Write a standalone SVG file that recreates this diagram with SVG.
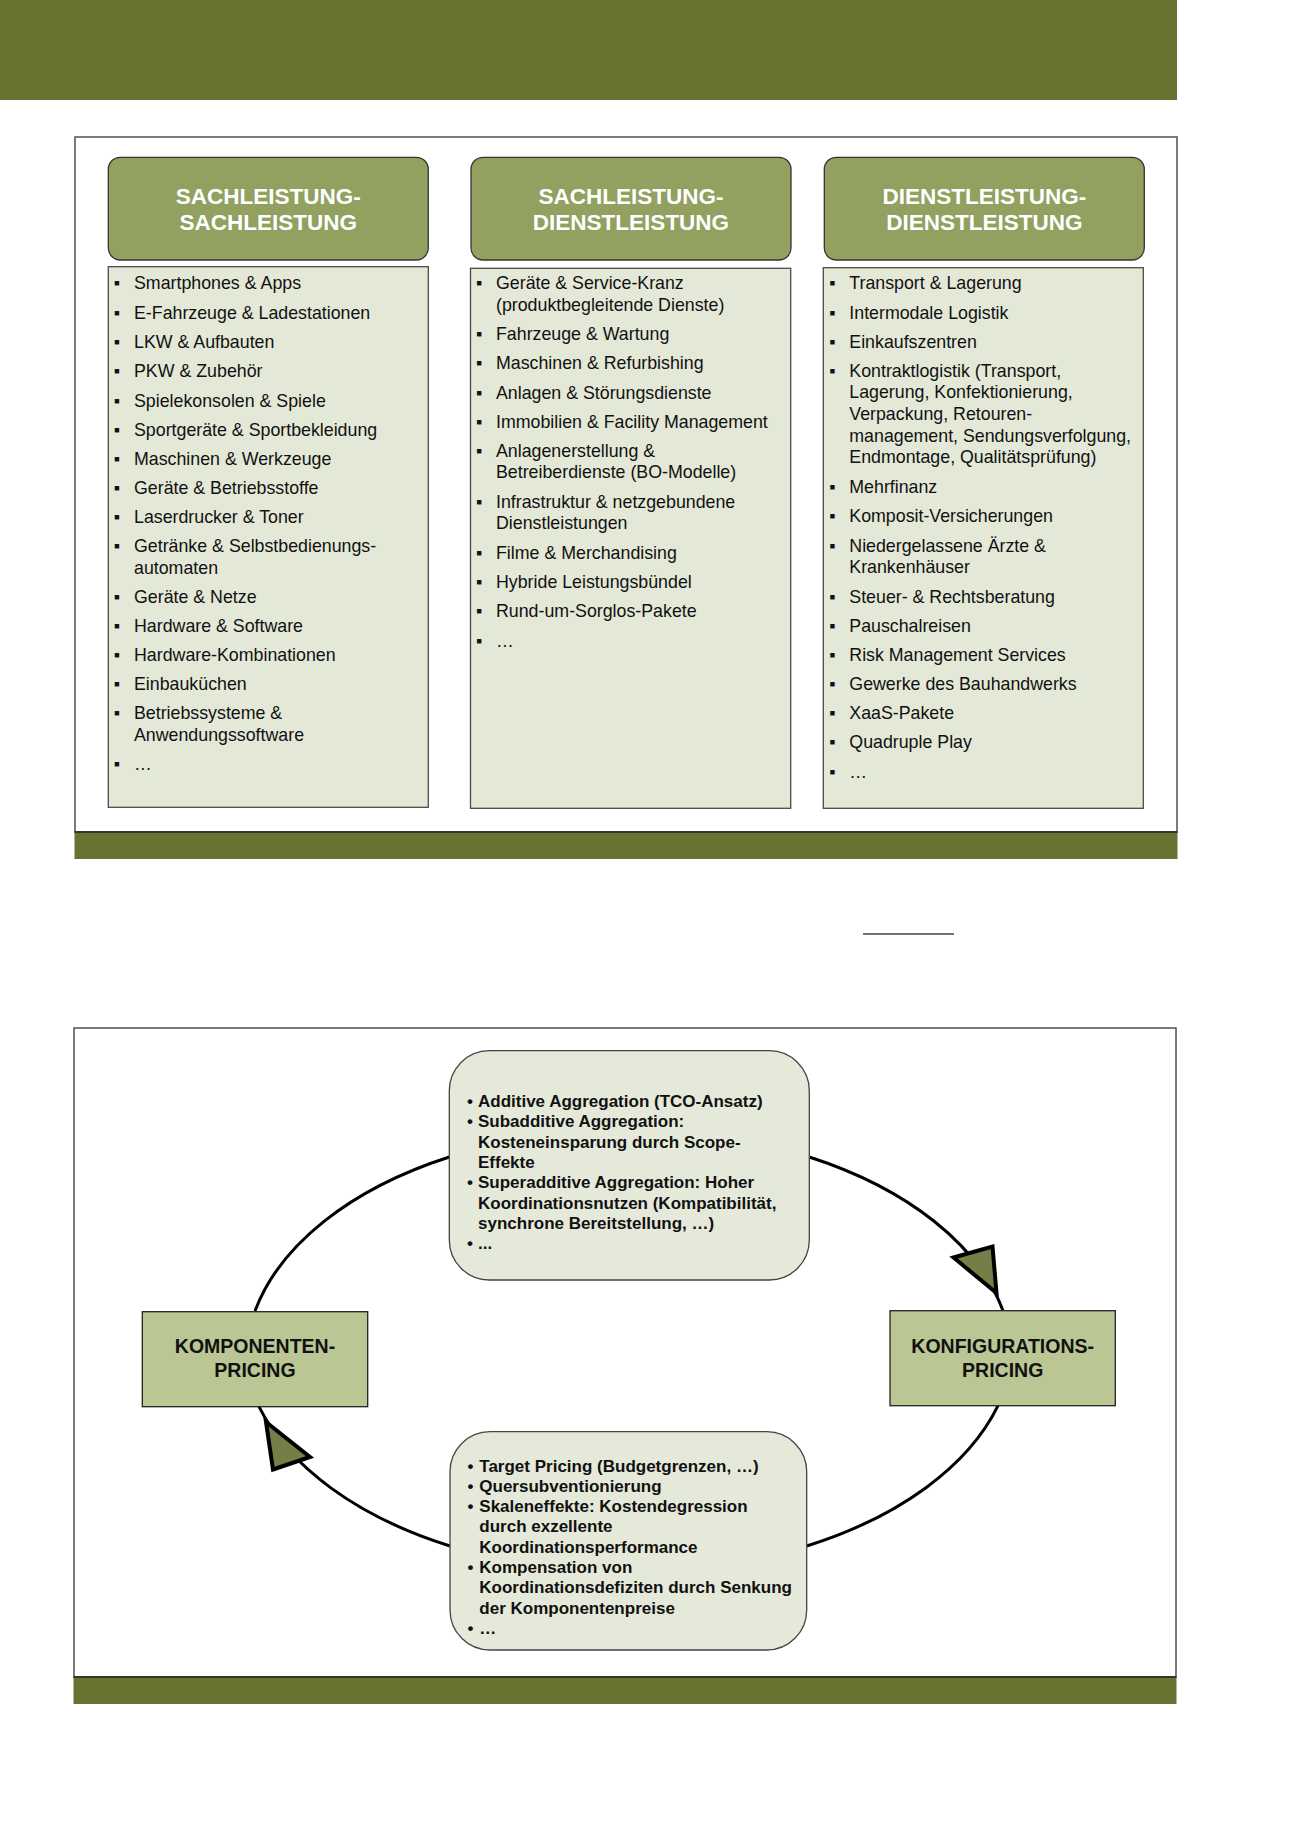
<svg xmlns="http://www.w3.org/2000/svg" width="1300" height="1839" viewBox="0 0 1300 1839">
<style>
.bar{fill:#687331}
.frame{fill:#fff;stroke:#505050;stroke-width:1.5}
.hdr{fill:#92a060;stroke:#333;stroke-width:1.3}
.hdrt{font-family:"Liberation Sans",Arial,sans-serif;font-weight:bold;font-size:22.5px;fill:#fff;text-anchor:middle}
.lst{fill:#e4e8d7;stroke:#4a4a4a;stroke-width:1.3}
.li{font-family:"Liberation Sans",Arial,sans-serif;font-size:17.8px;fill:#111}
.bul{font-family:"Liberation Sans",Arial,sans-serif;font-size:17.8px;fill:#111;text-anchor:middle}
.node{fill:#bac794;stroke:#222;stroke-width:1.3}
.nodet{font-family:"Liberation Sans",Arial,sans-serif;font-weight:bold;font-size:19.5px;fill:#111;text-anchor:middle}
.rbox{fill:#e5e9d9;stroke:#444;stroke-width:1.3}
.bt{font-family:"Liberation Sans",Arial,sans-serif;font-weight:bold;font-size:17px;fill:#111}
.conn{fill:none;stroke:#000;stroke-width:3}
.arrow{fill:#737f46;stroke:#000;stroke-width:4;stroke-linejoin:miter}
</style>

<rect class="bar" x="0" y="0" width="1177" height="100"/>

<!-- Upper panel -->
<g id="panel1">
<rect class="frame" x="75" y="137" width="1102" height="695"/>
<rect class="bar" x="74.5" y="832" width="1103" height="27"/>
<line x1="74.5" y1="832" x2="1177.5" y2="832" stroke="#222" stroke-width="1.3"/>
</g>

<g id="col1">
<rect class="hdr" x="108.3" y="157.3" width="320" height="102.7" rx="12"/>
<text class="hdrt" x="268.3" y="204">SACHLEISTUNG-</text>
<text class="hdrt" x="268.3" y="230">SACHLEISTUNG</text>
<rect class="lst" x="108.3" y="266.7" width="320" height="540.6"/>
<g class="bul">
<text x="116.8" y="289.3">▪</text><text x="116.8" y="318.6">▪</text><text x="116.8" y="347.9">▪</text><text x="116.8" y="377.2">▪</text><text x="116.8" y="406.5">▪</text><text x="116.8" y="435.8">▪</text><text x="116.8" y="465">▪</text><text x="116.8" y="494">▪</text><text x="116.8" y="523">▪</text><text x="116.8" y="552">▪</text><text x="116.8" y="602.7">▪</text><text x="116.8" y="631.8">▪</text><text x="116.8" y="661">▪</text><text x="116.8" y="690">▪</text><text x="116.8" y="719.3">▪</text><text x="116.8" y="770">▪</text>
</g>
<g class="li">
<text x="134" y="289.3">Smartphones &amp; Apps</text>
<text x="134" y="318.6">E-Fahrzeuge &amp; Ladestationen</text>
<text x="134" y="347.9">LKW &amp; Aufbauten</text>
<text x="134" y="377.2">PKW &amp; Zubehör</text>
<text x="134" y="406.5">Spielekonsolen &amp; Spiele</text>
<text x="134" y="435.8">Sportgeräte &amp; Sportbekleidung</text>
<text x="134" y="465">Maschinen &amp; Werkzeuge</text>
<text x="134" y="494">Geräte &amp; Betriebsstoffe</text>
<text x="134" y="523">Laserdrucker &amp; Toner</text>
<text x="134" y="552">Getränke &amp; Selbstbedienungs-</text>
<text x="134" y="573.5">automaten</text>
<text x="134" y="602.7">Geräte &amp; Netze</text>
<text x="134" y="631.8">Hardware &amp; Software</text>
<text x="134" y="661">Hardware-Kombinationen</text>
<text x="134" y="690">Einbauküchen</text>
<text x="134" y="719.3">Betriebssysteme &amp;</text>
<text x="134" y="741">Anwendungssoftware</text>
<text x="134" y="770">…</text>
</g>
</g>

<g id="col2">
<rect class="hdr" x="471" y="157.3" width="320" height="102.7" rx="12"/>
<text class="hdrt" x="631" y="204">SACHLEISTUNG-</text>
<text class="hdrt" x="631" y="230">DIENSTLEISTUNG</text>
<rect class="lst" x="470.5" y="268.3" width="320.2" height="540"/>
<g class="bul">
<text x="479.2" y="289.3">▪</text><text x="479.2" y="340">▪</text><text x="479.2" y="369.3">▪</text><text x="479.2" y="398.5">▪</text><text x="479.2" y="427.7">▪</text><text x="479.2" y="456.8">▪</text><text x="479.2" y="507.6">▪</text><text x="479.2" y="558.8">▪</text><text x="479.2" y="588.2">▪</text><text x="479.2" y="617.4">▪</text><text x="479.2" y="646.7">▪</text>
</g>
<g class="li">
<text x="496" y="289.3">Geräte &amp; Service-Kranz</text>
<text x="496" y="310.5">(produktbegleitende Dienste)</text>
<text x="496" y="340">Fahrzeuge &amp; Wartung</text>
<text x="496" y="369.3">Maschinen &amp; Refurbishing</text>
<text x="496" y="398.5">Anlagen &amp; Störungsdienste</text>
<text x="496" y="427.7">Immobilien &amp; Facility Management</text>
<text x="496" y="456.8">Anlagenerstellung &amp;</text>
<text x="496" y="478.3">Betreiberdienste (BO-Modelle)</text>
<text x="496" y="507.6">Infrastruktur &amp; netzgebundene</text>
<text x="496" y="529.2">Dienstleistungen</text>
<text x="496" y="558.8">Filme &amp; Merchandising</text>
<text x="496" y="588.2">Hybride Leistungsbündel</text>
<text x="496" y="617.4">Rund-um-Sorglos-Pakete</text>
<text x="496" y="646.7">…</text>
</g>
</g>

<g id="col3">
<rect class="hdr" x="824.3" y="157.3" width="320" height="102.7" rx="12"/>
<text class="hdrt" x="984.3" y="204">DIENSTLEISTUNG-</text>
<text class="hdrt" x="984.3" y="230">DIENSTLEISTUNG</text>
<rect class="lst" x="823.3" y="267.7" width="320" height="540.6"/>
<g class="bul">
<text x="832.5" y="289.3">▪</text><text x="832.5" y="318.5">▪</text><text x="832.5" y="347.6">▪</text><text x="832.5" y="376.8">▪</text><text x="832.5" y="492.6">▪</text><text x="832.5" y="521.8">▪</text><text x="832.5" y="551.6">▪</text><text x="832.5" y="602.6">▪</text><text x="832.5" y="631.8">▪</text><text x="832.5" y="660.9">▪</text><text x="832.5" y="690">▪</text><text x="832.5" y="719.2">▪</text><text x="832.5" y="748.4">▪</text><text x="832.5" y="777.5">▪</text>
</g>
<g class="li">
<text x="849.3" y="289.3">Transport &amp; Lagerung</text>
<text x="849.3" y="318.5">Intermodale Logistik</text>
<text x="849.3" y="347.6">Einkaufszentren</text>
<text x="849.3" y="376.8">Kontraktlogistik (Transport,</text>
<text x="849.3" y="398.4">Lagerung, Konfektionierung,</text>
<text x="849.3" y="420">Verpackung, Retouren-</text>
<text x="849.3" y="441.6">management, Sendungsverfolgung,</text>
<text x="849.3" y="463.2">Endmontage, Qualitätsprüfung)</text>
<text x="849.3" y="492.6">Mehrfinanz</text>
<text x="849.3" y="521.8">Komposit-Versicherungen</text>
<text x="849.3" y="551.6">Niedergelassene Ärzte &amp;</text>
<text x="849.3" y="573.3">Krankenhäuser</text>
<text x="849.3" y="602.6">Steuer- &amp; Rechtsberatung</text>
<text x="849.3" y="631.8">Pauschalreisen</text>
<text x="849.3" y="660.9">Risk Management Services</text>
<text x="849.3" y="690">Gewerke des Bauhandwerks</text>
<text x="849.3" y="719.2">XaaS-Pakete</text>
<text x="849.3" y="748.4">Quadruple Play</text>
<text x="849.3" y="777.5">…</text>
</g>
</g>

<line x1="863" y1="934" x2="954" y2="934" stroke="#444" stroke-width="1.5"/>

<!-- Lower panel -->
<g id="panel2">
<rect class="frame" x="74" y="1028" width="1102" height="649"/>
<rect class="bar" x="73.5" y="1677" width="1103" height="27"/>
<line x1="73.5" y1="1677" x2="1176.5" y2="1677" stroke="#222" stroke-width="1.3"/>
</g>

<g id="connectors">
<path class="conn" d="M255,1311 A383,232 0 0,1 449.3,1157"/>
<path class="conn" d="M809.3,1157 A383,232 0 0,1 1003,1310.7"/>
<path class="conn" d="M998,1405.7 A383,232 0 0,1 806.7,1546"/>
<path class="conn" d="M450,1546 A383,232 0 0,1 259,1406.7"/>
<polygon class="arrow" points="996.5,1293 953.5,1257.5 992.5,1246.5"/>
<polygon class="arrow" points="266,1422 310,1457 273,1469.5"/>
</g>

<g id="box-top">
<rect class="rbox" x="449.3" y="1050.7" width="360" height="229.3" rx="40"/>
<g class="bt">
<text x="467" y="1107">•</text><text x="478" y="1107">Additive Aggregation (TCO-Ansatz)</text>
<text x="467" y="1127.3">•</text><text x="478" y="1127.3">Subadditive Aggregation:</text>
<text x="478" y="1147.6">Kosteneinsparung durch Scope-</text>
<text x="478" y="1167.9">Effekte</text>
<text x="467" y="1188.2">•</text><text x="478" y="1188.2">Superadditive Aggregation: Hoher</text>
<text x="478" y="1208.5">Koordinationsnutzen (Kompatibilität,</text>
<text x="478" y="1228.8">synchrone Bereitstellung, …)</text>
<text x="467" y="1249.1">•</text><text x="478" y="1249.1">...</text>
</g>
</g>

<g id="box-bottom">
<rect class="rbox" x="450" y="1431.7" width="356.7" height="218.3" rx="40"/>
<g class="bt">
<text x="467.5" y="1471.5">•</text><text x="479.3" y="1471.5">Target Pricing (Budgetgrenzen, …)</text>
<text x="467.5" y="1491.8">•</text><text x="479.3" y="1491.8">Quersubventionierung</text>
<text x="467.5" y="1512.1">•</text><text x="479.3" y="1512.1">Skaleneffekte: Kostendegression</text>
<text x="479.3" y="1532.4">durch exzellente</text>
<text x="479.3" y="1552.7">Koordinationsperformance</text>
<text x="467.5" y="1573">•</text><text x="479.3" y="1573">Kompensation von</text>
<text x="479.3" y="1593.3">Koordinationsdefiziten durch Senkung</text>
<text x="479.3" y="1613.6">der Komponentenpreise</text>
<text x="467.5" y="1633.9">•</text><text x="479.3" y="1633.9">…</text>
</g>
</g>

<g id="node-komponenten">
<rect class="node" x="142.3" y="1311.7" width="225.4" height="95"/>
<text class="nodet" x="255" y="1353.3">KOMPONENTEN-</text>
<text class="nodet" x="255" y="1377.3">PRICING</text>
</g>

<g id="node-konfiguration">
<rect class="node" x="890" y="1310.7" width="225.3" height="95"/>
<text class="nodet" x="1002.7" y="1353.3">KONFIGURATIONS-</text>
<text class="nodet" x="1002.7" y="1377.3">PRICING</text>
</g>
</svg>
